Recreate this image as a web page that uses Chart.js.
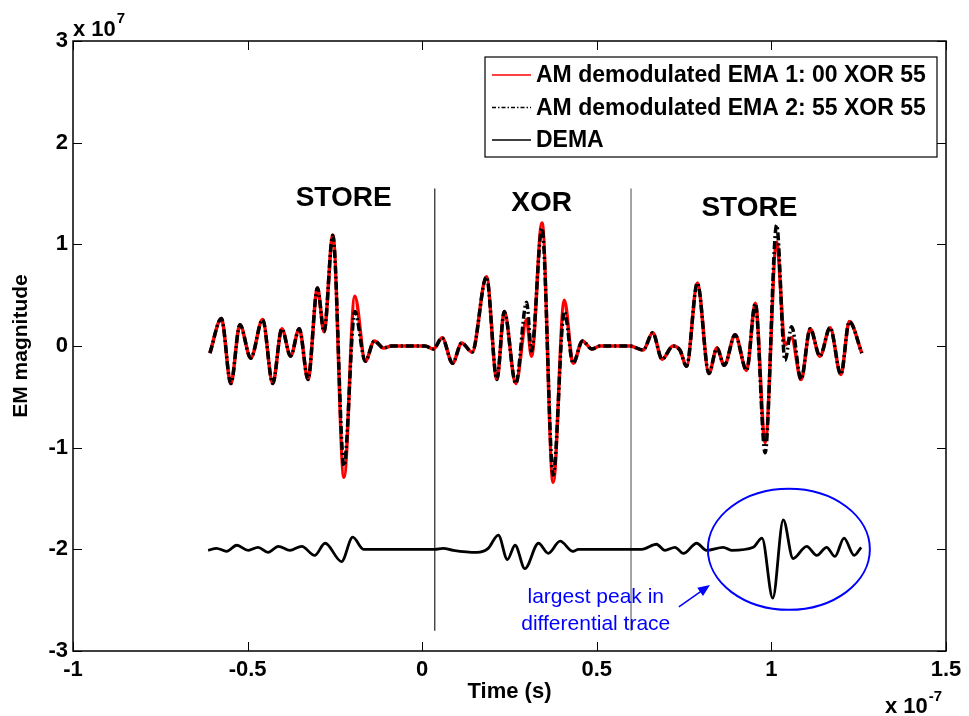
<!DOCTYPE html>
<html lang="en">
<head>
<meta charset="utf-8" />
<title>EM magnitude - EMA / DEMA</title>
<script src="https://cdn.jsdelivr.net/npm/chart.js"></script>
<style>
    html, body { margin: 0; padding: 0; background: #fff; }
    canvas { display: block; }
</style>
</head>
<body>
<canvas id="chart" width="969" height="716"></canvas>
<script>
// time in units of 1e-7 s, magnitude in units of 1e7
const emaTime = [-0.608, -0.575, -0.548, -0.522, -0.491, -0.457, -0.428, -0.402, -0.377, -0.352,
    -0.327, -0.300, -0.281, -0.256, -0.224, -0.193, -0.163, -0.137, -0.111, -0.088,
    0.008, 0.032, 0.057, 0.087, 0.113, 0.143, 0.184, 0.214, 0.235, 0.268,
    0.299, 0.313, 0.343, 0.375, 0.407, 0.432, 0.459, 0.486, 0.509, 0.595,
    0.633, 0.660, 0.687, 0.718, 0.738, 0.757, 0.788, 0.821, 0.844, 0.865,
    0.896, 0.929, 0.954, 0.982, 1.015, 1.039, 1.058, 1.085, 1.111, 1.139,
    1.168, 1.199, 1.223, 1.259];
const ema1Values = [-0.07, 0.27, -0.37, 0.21, -0.12, 0.26, -0.37, 0.17, -0.10, 0.17,
    -0.33, 0.57, 0.14, 1.09, -1.29, 0.49, -0.15, 0.05, -0.02, 0.00,
    0.00, -0.03, 0.08, -0.17, 0.03, -0.06, 0.68, -0.33, 0.34, -0.37,
    0.26, -0.10, 1.21, -1.34, 0.45, -0.17, 0.05, -0.03, 0.00, 0.00,
    -0.04, 0.13, -0.13, 0.00, -0.04, -0.20, 0.62, -0.27, -0.02, -0.19,
    0.11, -0.24, 0.42, -0.95, 1.02, 0.01, 0.08, -0.33, 0.17, -0.10,
    0.18, -0.28, 0.24, -0.07];
const ema2Values = [-0.07, 0.27, -0.37, 0.21, -0.12, 0.26, -0.37, 0.17, -0.10, 0.17,
    -0.33, 0.57, 0.14, 1.09, -1.18, 0.34, -0.15, 0.05, -0.02, 0.00,
    0.00, -0.03, 0.08, -0.17, 0.03, -0.06, 0.68, -0.33, 0.34, -0.37,
    0.43, -0.05, 1.16, -1.27, 0.34, -0.17, 0.05, -0.03, 0.00, 0.00,
    -0.04, 0.13, -0.13, 0.00, -0.04, -0.20, 0.62, -0.27, -0.02, -0.19,
    0.11, -0.24, 0.42, -1.05, 1.19, -0.14, 0.19, -0.33, 0.17, -0.10,
    0.18, -0.28, 0.24, -0.07];
const demaTime = [-0.613, -0.589, -0.560, -0.531, -0.498, -0.470, -0.441, -0.412, -0.379, -0.345,
    -0.308, -0.278, -0.231, -0.199, -0.168, -0.149, 0.036, 0.060, 0.089, 0.156,
    0.189, 0.218, 0.244, 0.266, 0.294, 0.333, 0.361, 0.395, 0.432, 0.447,
    0.629, 0.671, 0.695, 0.724, 0.748, 0.786, 0.814, 0.862, 0.886, 0.948,
    0.973, 1.004, 1.034, 1.062, 1.101, 1.130, 1.158, 1.182, 1.208, 1.237, 1.257];
const demaValues = [-2.01, -1.99, -2.02, -1.96, -2.01, -1.98, -2.03, -1.97, -2.01, -1.97,
    -2.06, -1.94, -2.12, -1.88, -2.00, -2.00, -2.00, -1.99, -2.01, -2.03,
    -1.99, -1.86, -2.10, -1.96, -2.19, -1.94, -2.04, -1.92, -2.02, -2.00,
    -2.00, -1.95, -2.01, -1.98, -2.04, -1.94, -2.01, -1.98, -2.01, -1.98,
    -1.89, -2.48, -1.71, -2.09, -1.97, -2.06, -1.98, -2.07, -1.89, -2.06, -1.98];
const dividerTimes = [0.036, 0.598];
const dividerSpan = [1.55, -2.8];
const seriesLabels = ['AM demodulated EMA 1: 00 XOR 55', 'AM demodulated EMA 2: 55 XOR 55', 'DEMA'];
const xTickLabels = ['-1', '-0.5', '0', '0.5', '1', '1.5'];
const yTickLabels = ['-3', '-2', '-1', '0', '1', '2', '3'];

// annotation placement (data coordinates)
const notes = {
    sections: [
        { text: 'STORE', x: -0.225, y: 1.455 },
        { text: 'XOR', x: 0.342, y: 1.406 },
        { text: 'STORE', x: 0.937, y: 1.357 }
    ],
    ellipse: { x: 1.050, y: -2.0, rx: 0.232, ry: 0.595 },
    arrow: { from: [0.735, -2.566], to: [0.824, -2.350] },
    caption: { lines: ['largest peak in', 'differential trace'], x: 0.497, y: [-2.468, -2.734] }
};

const FONT = '"Liberation Sans", Arial, Helvetica, sans-serif';

function pts(ts, vs) {
    return ts.map(function (t, i) { return { x: t, y: vs[i] }; });
}

const datasets = [
    { label: seriesLabels[0], data: pts(emaTime, ema1Values), borderColor: '#ff0000', borderWidth: 3.5, order: 3 },
    { label: seriesLabels[1], data: pts(emaTime, ema2Values), borderColor: '#000000', borderWidth: 3.5,
      borderDash: [8, 3, 2, 3], order: 2 },
    { label: seriesLabels[2], data: pts(demaTime, demaValues), borderColor: '#000000', borderWidth: 2.8, order: 1 }
];
dividerTimes.forEach(function (t, i) {
    datasets.push({
        label: '', skipLegend: true, order: 4,
        data: [{ x: t, y: dividerSpan[0] }, { x: t, y: dividerSpan[1] }],
        borderColor: i === 0 ? '#222222' : '#666666', borderWidth: 1.2
    });
});

const framePlugin = {
    id: 'matlabFrame',
    afterDraw: function (chart) {
        const ctx = chart.ctx;
        const a = chart.chartArea;
        const xs = chart.scales.x, ys = chart.scales.y;
        ctx.save();

        // inward ticks
        ctx.strokeStyle = '#000';
        ctx.lineWidth = 1;
        ctx.beginPath();
        xs.ticks.forEach(function (t) {
            const px = Math.round(xs.getPixelForValue(t.value)) + 0.5;
            ctx.moveTo(px, a.bottom); ctx.lineTo(px, a.bottom - 9);
            ctx.moveTo(px, a.top); ctx.lineTo(px, a.top + 9);
        });
        ys.ticks.forEach(function (t) {
            const py = Math.round(ys.getPixelForValue(t.value)) + 0.5;
            ctx.moveTo(a.left, py); ctx.lineTo(a.left + 9, py);
            ctx.moveTo(a.right, py); ctx.lineTo(a.right - 9, py);
        });
        ctx.stroke();

        // axes box
        ctx.lineWidth = 1.5;
        ctx.strokeRect(a.left, a.top, a.right - a.left, a.bottom - a.top);

        // exponent labels
        ctx.fillStyle = '#000';
        ctx.textAlign = 'left';
        ctx.textBaseline = 'alphabetic';
        ctx.font = 'bold 22px ' + FONT;
        ctx.fillText('x 10', a.left, 36);
        let w = ctx.measureText('x 10').width;
        ctx.font = 'bold 15px ' + FONT;
        ctx.fillText('7', a.left + w + 1, 23);
        ctx.font = 'bold 22px ' + FONT;
        ctx.fillText('x 10', 885, 713);
        w = ctx.measureText('x 10').width;
        ctx.font = 'bold 15px ' + FONT;
        ctx.fillText('-7', 885 + w + 1, 701);

        // section labels
        ctx.font = 'bold 28px ' + FONT;
        ctx.textAlign = 'center';
        ctx.textBaseline = 'middle';
        notes.sections.forEach(function (s) {
            ctx.fillText(s.text, xs.getPixelForValue(s.x), ys.getPixelForValue(s.y));
        });

        // ellipse, arrow and caption
        const e = notes.ellipse;
        const cx = xs.getPixelForValue(e.x), cy = ys.getPixelForValue(e.y);
        const rx = xs.getPixelForValue(e.x + e.rx) - cx;
        const ry = cy - ys.getPixelForValue(e.y + e.ry);
        ctx.strokeStyle = '#0000ff';
        ctx.fillStyle = '#0000ff';
        ctx.lineWidth = 2;
        ctx.beginPath();
        ctx.ellipse(cx, cy, rx, ry, 0, 0, Math.PI * 2);
        ctx.stroke();

        const x1 = xs.getPixelForValue(notes.arrow.from[0]), y1 = ys.getPixelForValue(notes.arrow.from[1]);
        const x2 = xs.getPixelForValue(notes.arrow.to[0]), y2 = ys.getPixelForValue(notes.arrow.to[1]);
        const ang = Math.atan2(y2 - y1, x2 - x1);
        ctx.lineWidth = 1.5;
        ctx.beginPath();
        ctx.moveTo(x1, y1);
        ctx.lineTo(x2 - 8 * Math.cos(ang), y2 - 8 * Math.sin(ang));
        ctx.stroke();
        ctx.beginPath();
        ctx.moveTo(x2, y2);
        ctx.lineTo(x2 - 12 * Math.cos(ang) + 5 * Math.sin(ang), y2 - 12 * Math.sin(ang) - 5 * Math.cos(ang));
        ctx.lineTo(x2 - 12 * Math.cos(ang) - 5 * Math.sin(ang), y2 - 12 * Math.sin(ang) + 5 * Math.cos(ang));
        ctx.closePath();
        ctx.fill();

        ctx.font = '21px ' + FONT;
        notes.caption.lines.forEach(function (line, i) {
            ctx.fillText(line, xs.getPixelForValue(notes.caption.x), ys.getPixelForValue(notes.caption.y[i]));
        });

        // legend box
        const bx = a.right - 9 - 452, by = a.top + 16, bw = 452, bh = 100;
        ctx.fillStyle = '#fff';
        ctx.fillRect(bx, by, bw, bh);
        ctx.strokeStyle = '#000';
        ctx.lineWidth = 1.2;
        ctx.strokeRect(bx, by, bw, bh);
        ctx.font = 'bold 23px ' + FONT;
        ctx.textAlign = 'left';
        ctx.textBaseline = 'middle';
        const items = chart.data.datasets.filter(function (d) { return !d.skipLegend; });
        items.forEach(function (d, i) {
            const ry2 = by + 18 + i * 32.5;
            ctx.strokeStyle = d.borderColor;
            ctx.lineWidth = 1.5;
            ctx.setLineDash(d.borderDash ? [4, 2, 1.5, 2] : []);
            ctx.beginPath();
            ctx.moveTo(bx + 7, ry2);
            ctx.lineTo(bx + 46, ry2);
            ctx.stroke();
            ctx.setLineDash([]);
            ctx.fillStyle = '#000';
            ctx.fillText(d.label, bx + 51, ry2 + 1);
        });
        ctx.restore();
    }
};

new Chart(document.getElementById('chart'), {
    type: 'line',
    data: { datasets: datasets },
    options: {
        responsive: false,
        animation: false,
        layout: { padding: { top: 41, right: 23, left: 0, bottom: 0 } },
        elements: {
            point: { radius: 0 },
            line: { cubicInterpolationMode: 'monotone', fill: false }
        },
        plugins: { legend: { display: false }, tooltip: { enabled: false } },
        scales: {
            x: {
                type: 'linear', min: -1, max: 1.5,
                grid: { display: false, drawTicks: false },
                border: { display: false },
                ticks: {
                    stepSize: 0.5, autoSkip: false, maxRotation: 0, padding: 6, color: '#000',
                    font: { family: FONT, size: 22, weight: 'bold' },
                    callback: function (v) { return xTickLabels[Math.round((v + 1) / 0.5)]; }
                },
                title: {
                    display: true, text: 'Time (s)', color: '#000',
                    font: { family: FONT, size: 22, weight: 'bold' },
                    padding: { top: 0, bottom: 11 }
                },
                afterFit: function (s) { s.height = 65; }
            },
            y: {
                type: 'linear', min: -3, max: 3,
                grid: { display: false, drawTicks: false },
                border: { display: false },
                ticks: {
                    stepSize: 1, autoSkip: false, padding: 5, color: '#000',
                    font: { family: FONT, size: 22, weight: 'bold' },
                    callback: function (v) { return yTickLabels[Math.round(v + 3)]; }
                },
                title: {
                    display: true, text: 'EM magnitude', color: '#000',
                    font: { family: FONT, size: 21, weight: 'bold' },
                    padding: { top: 9, bottom: 0 }
                },
                afterFit: function (s) { s.width = 73; }
            }
        }
    },
    plugins: [framePlugin]
});
</script>
</body>
</html>
